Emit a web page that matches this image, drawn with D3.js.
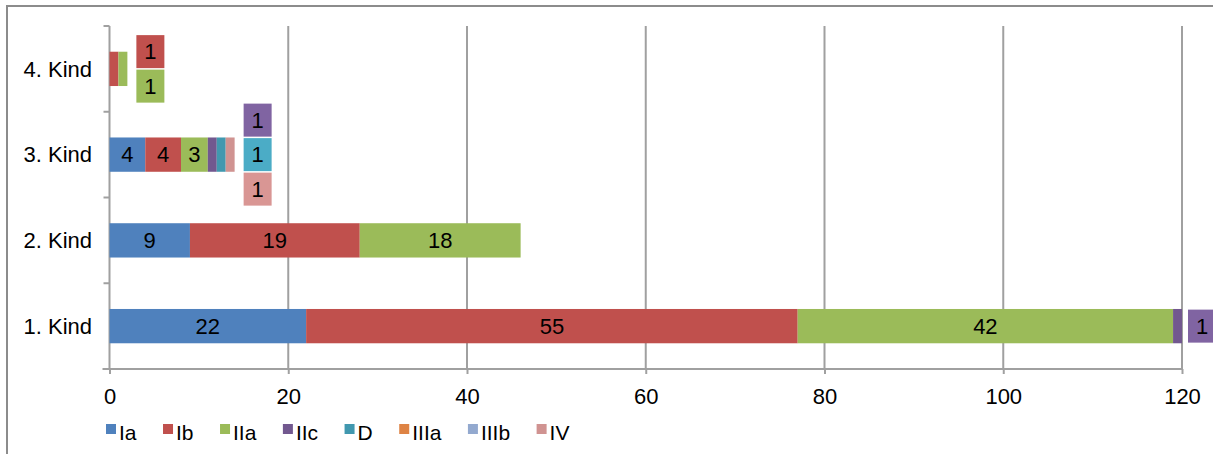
<!DOCTYPE html>
<html>
<head>
<meta charset="utf-8">
<script src="https://cdn.jsdelivr.net/npm/d3@7"></script>
<style>
  html, body { margin: 0; padding: 0; background: #fff; }
  svg { display: block; font-family: "Liberation Sans", Arial, sans-serif; }
</style>
</head>
<body>
<svg id="chart" width="1213" height="454"></svg>
<script>
// Categories (bottom to top) and series
const categories = ["1. Kind", "2. Kind", "3. Kind", "4. Kind"];
const seriesNames = ["Ia", "Ib", "IIa", "IIc", "D", "IIIa", "IIIb", "IV"];

// Counts per series, in category order
const Ia   = [22, 9, 4, 0];
const Ib   = [55, 19, 4, 1];
const IIa  = [42, 18, 3, 1];
const IIc  = [1, 0, 1, 0];
const D    = [0, 0, 1, 0];
const IIIa = [0, 0, 0, 0];
const IIIb = [0, 0, 0, 0];
const IV   = [0, 0, 1, 0];

const xTicks = [0, 20, 40, 60, 80, 100, 120];

const barColors   = ["#4F81BD", "#C0504D", "#9BBB59", "#72588F", "#4198AF", "#DE8344", "#93A9CF", "#D09391"];
const calloutFill = ["#4F81BD", "#C0504D", "#9BBB59", "#8064A2", "#4BACC6", "#F79646", "#95B3D7", "#D99694"];

const seriesValues = [Ia, Ib, IIa, IIc, D, IIIa, IIIb, IV];

// Build a table usable by d3.stack
const table = categories.map((c, i) => {
  const row = { category: c };
  seriesNames.forEach((s, j) => { row[s] = seriesValues[j][i]; });
  return row;
});

const svg = d3.select("#chart");
const plot = { left: 109.5, right: 1182, top: 26, bottom: 369 };
const FONT = 22;
const LEGEND_FONT = 21;

// Outer frame
svg.append("rect")
  .attr("x", 7).attr("y", 6).attr("width", 1300).attr("height", 600)
  .attr("fill", "none").attr("stroke", "#8C8C8C").attr("stroke-width", 2);

const x = d3.scaleLinear().domain([0, 120]).range([plot.left, plot.right]);
const y = d3.scaleBand().domain(categories).range([plot.bottom, plot.top])
  .paddingInner(0.6).paddingOuter(0.3);

// Vertical gridlines
svg.append("g").selectAll("line")
  .data(xTicks.filter(t => t > 0))
  .join("line")
  .attr("x1", d => x(d)).attr("x2", d => x(d))
  .attr("y1", plot.top).attr("y2", plot.bottom)
  .attr("stroke", "#A0A0A0").attr("stroke-width", 2);

// X axis
const xAxis = svg.append("g")
  .attr("transform", `translate(0,${plot.bottom})`)
  .call(d3.axisBottom(x).tickValues(xTicks).tickSize(5).tickPadding(14).tickSizeOuter(0));
xAxis.select(".domain").attr("stroke", "#A0A0A0").attr("stroke-width", 2)
  .attr("d", `M${plot.left - 7},0H${plot.right}`);
xAxis.selectAll(".tick line").attr("stroke", "#A0A0A0").attr("stroke-width", 2);
xAxis.selectAll(".tick text").attr("font-size", FONT).attr("fill", "#000")
  .attr("font-family", "Liberation Sans, Arial, sans-serif");

// Y axis line with boundary ticks
const boundaries = d3.range(categories.length + 1).map(i => plot.bottom - i * y.step());
const yAxisG = svg.append("g");
yAxisG.append("line")
  .attr("x1", plot.left).attr("x2", plot.left)
  .attr("y1", plot.top).attr("y2", plot.bottom)
  .attr("stroke", "#A0A0A0").attr("stroke-width", 2);
yAxisG.selectAll("line.bt")
  .data(boundaries.slice(1))
  .join("line").attr("class", "bt")
  .attr("x1", plot.left - 6).attr("x2", plot.left)
  .attr("y1", d => d).attr("y2", d => d)
  .attr("stroke", "#A0A0A0").attr("stroke-width", 2);
yAxisG.selectAll("text")
  .data(categories)
  .join("text")
  .attr("x", 92)
  .attr("y", d => y(d) + y.bandwidth() / 2)
  .attr("dy", "0.35em")
  .attr("text-anchor", "end")
  .attr("font-size", FONT)
  .text(d => d);

// Stacked bars
const stack = d3.stack().keys(seriesNames)(table);
const layers = svg.append("g").selectAll("g")
  .data(stack)
  .join("g")
  .attr("fill", (d, i) => barColors[i]);

layers.selectAll("rect")
  .data(d => d.filter(s => s[1] - s[0] > 0))
  .join("rect")
  .attr("x", d => x(d[0]))
  .attr("width", d => x(d[1]) - x(d[0]))
  .attr("y", d => y(d.data.category))
  .attr("height", y.bandwidth());

// Labels: wide segments get centered labels; narrow ones get stacked callouts past the bar end
const labels = svg.append("g").attr("font-size", FONT).attr("text-anchor", "middle");
const boxW = 28, boxH = 33, boxStep = 34.5;
categories.forEach((cat, ci) => {
  const total = d3.sum(seriesValues, v => v[ci]);
  const cy = y(cat) + y.bandwidth() / 2;
  const small = [];
  seriesNames.forEach((s, si) => {
    const v = seriesValues[si][ci];
    if (v <= 0) return;
    if (v >= 3) {
      const x0 = d3.sum(seriesValues.slice(0, si), a => a[ci]);
      labels.append("text")
        .attr("x", (x(x0) + x(x0 + v)) / 2)
        .attr("y", cy).attr("dy", "0.35em")
        .text(v);
    } else {
      small.push({ si, v });
    }
  });
  const bx = x(total) + (total >= 120 ? 6 : 9);
  small.forEach((d, k) => {
    const by = cy + (k - (small.length - 1) / 2) * boxStep;
    labels.append("rect")
      .attr("x", bx).attr("y", by - boxH / 2)
      .attr("width", boxW).attr("height", boxH)
      .attr("fill", calloutFill[d.si]);
    labels.append("text")
      .attr("x", bx + boxW / 2).attr("y", by).attr("dy", "0.35em")
      .text(d.v);
  });
});

// Legend
const legend = svg.append("g").attr("font-size", LEGEND_FONT);
let lx = 106;
seriesNames.forEach((s, i) => {
  legend.append("rect")
    .attr("x", lx).attr("y", 424).attr("width", 10).attr("height", 10)
    .attr("fill", barColors[i]);
  const t = legend.append("text")
    .attr("x", lx + 13).attr("y", 439.5)
    .text(s);
  lx = lx + 13 + t.node().getComputedTextLength() + 26.5;
});
</script>
</body>
</html>
